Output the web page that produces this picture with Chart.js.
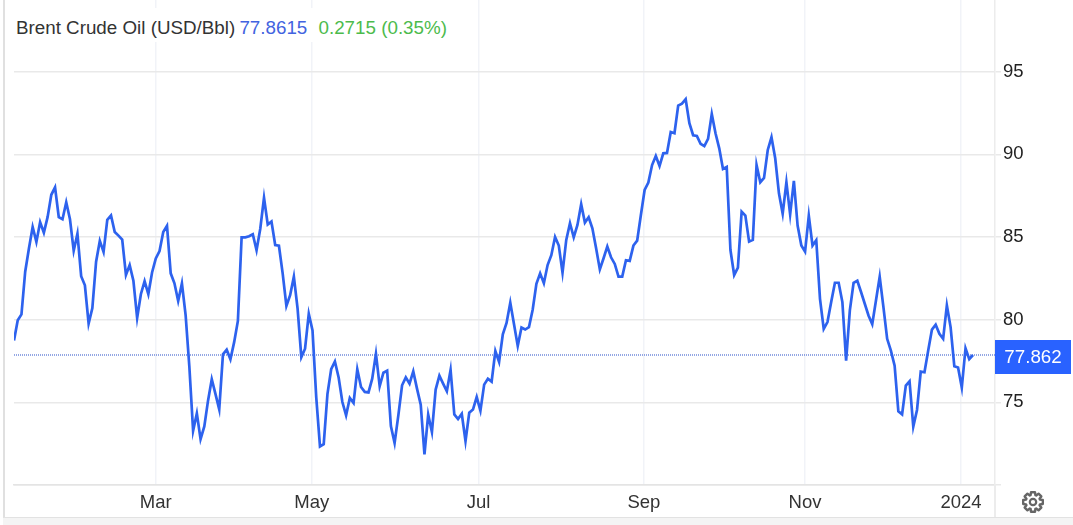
<!DOCTYPE html>
<html>
<head>
<meta charset="utf-8">
<title>Brent Crude Oil</title>
<script src="https://cdn.jsdelivr.net/npm/chart.js@4"></script>
<style>
  html, body { margin: 0; padding: 0; background: #fff; overflow: hidden; }
  body { width: 1073px; height: 525px; position: relative; font-family: "Liberation Sans", Arial, sans-serif; }
  canvas { position: absolute; left: 0; top: 0; }
  #frameLeft { position: absolute; left: 3px; top: 0; width: 2px; height: 518px; background: #e0e0e0; }
  #frameBottom { position: absolute; left: 3px; top: 517px; width: 1070px; height: 8px; background: #f4f4f4; border-top: 1px solid #e2e2e2; box-sizing: border-box; }
  #frameRight { position: absolute; left: 994px; top: 485px; width: 2px; height: 33px; background: #ececec; }
  #header { position: absolute; left: 9px; top: 8px; height: 34px; line-height: 39px; padding: 0 7px; background: #fff; font-size: 18.8px; color: #333; white-space: nowrap; }
  #header .last { color: #4263e0; margin-left: -1px; }
  #header .change { color: #4cbb4c; margin-left: 4px; margin-right: 0; }
  #gear { position: absolute; left: 1022px; top: 491px; }
</style>
</head>
<body>
<canvas id="graphCanvas" width="1073" height="525"></canvas>
<div id="frameLeft"></div>
<div id="frameRight"></div>
<div id="frameBottom"></div>
<div id="header">Brent Crude Oil (USD/Bbl) <span class="last">77.8615</span> <span class="change" style="margin-left:6px">0.2715 (0.35%)</span></div>
<svg id="gear" width="22" height="22" viewBox="0 0 22 22">
  <path id="gearPath" fill="none" stroke="#666" stroke-width="2.4" stroke-linejoin="round"/>
  <circle cx="11" cy="11" r="3.2" fill="none" stroke="#666" stroke-width="2.2"/>
</svg>

<script>
// daily closes, Jan 2023 -> Jan 2024
var closes = [
  78.74, 79.96, 80.32, 82.9, 84.3, 85.6, 84.7, 85.9, 85.26, 86.2,
  87.55, 88.0, 86.2, 86.07, 87.1, 86.07, 84.17, 85.2, 82.63, 82.08,
  79.76, 80.7, 83.5, 84.76, 84.1, 86.03, 86.3, 85.3, 85.08, 84.84,
  82.7, 83.3, 82.35, 80.1, 81.54, 82.33, 81.54, 82.85, 83.7, 84.15,
  85.3, 85.67, 82.8, 82.2, 81.13, 82.19, 80.26, 77.13, 73.28, 74.33,
  72.77, 73.54, 75.1, 76.4, 75.5, 74.57, 77.9, 78.18, 77.6, 78.64,
  79.92, 84.98, 84.98, 85.04, 85.16, 84.2, 85.5, 87.37, 85.75, 85.93,
  84.51, 84.47, 82.8, 80.83, 81.48, 82.6, 80.67, 77.73, 78.24, 80.36,
  79.35, 75.3, 72.33, 72.47, 75.5, 77.0, 77.47, 76.5, 75.02, 74.21,
  75.26, 74.96, 77.0, 75.93, 75.63, 75.6, 76.43, 77.94, 75.97, 76.79,
  76.91, 73.57, 72.54, 74.21, 76.03, 76.51, 76.13, 76.87, 75.83, 74.86,
  71.85, 74.25, 73.2, 75.77, 76.61, 76.13, 75.67, 76.96, 74.27, 73.99,
  74.31, 72.66, 74.37, 74.56, 75.32, 74.5, 76.07, 76.43, 76.25, 78.1,
  77.44, 79.11, 79.8, 81.03, 79.72, 78.41, 79.52, 79.4, 79.54, 80.6,
  82.16, 82.8, 82.2, 83.3, 83.9, 85.0, 84.48, 82.84, 84.82, 85.83,
  84.98, 85.73, 86.98, 85.87, 86.19, 85.52, 84.31, 83.04, 83.71, 84.42,
  83.77, 83.37, 82.6, 82.6, 83.59, 83.55, 84.48, 84.78, 86.33, 87.84,
  88.29, 89.35, 89.9, 89.29, 90.06, 90.08, 91.35, 91.27, 92.94, 93.06,
  93.33, 91.88, 91.15, 91.11, 90.63, 90.5, 90.93, 92.44, 91.27, 90.36,
  89.11, 89.23, 84.21, 82.7, 83.15, 86.53, 86.29, 84.72, 84.82, 89.35,
  88.31, 88.57, 90.26, 91.03, 89.76, 87.64, 86.41, 88.31, 86.37, 88.39,
  85.69, 84.48, 84.11, 86.29, 84.48, 84.8, 81.26, 79.44, 79.85, 81.06,
  82.23, 82.23, 81.06, 77.52, 80.56, 82.23, 82.35, 81.67, 80.96, 80.25,
  79.73, 81.16, 82.6, 80.76, 78.84, 78.13, 77.22, 74.45, 74.27, 76.01,
  76.27, 73.53, 74.54, 76.86, 76.82, 78.13, 79.4, 79.69, 79.14, 78.84,
  80.86, 79.55, 77.18, 77.1, 75.89, 78.27, 77.61, 77.86
];
var lastPrice = 77.862;

// tick positions are in trading-day index
var monthPositions = [38, 79.8, 124.5, 168.8, 212, 253.8];
var monthLabels = ['Mar', 'May', 'Jul', 'Sep', 'Nov', '2024'];
var priceTicks = [75, 80, 85, 90, 95];
var priceFloor = 70;

var lineBlue = '#2d62ee';
var hGrid = '#e9e9e9';
var vGrid = '#f1f3f8';

var closePoints = closes.map(function (v, i) { return { x: i, y: v }; });
var xMax = 262.9;

// gear outline, 8 teeth
var gearPts = [];
for (var t = 0; t < 8; t++) {
  var a = t * Math.PI / 4;
  [[-0.33, 7.3], [-0.2, 10], [0.2, 10], [0.33, 7.3]].forEach(function (p) {
    gearPts.push((11 + p[1] * Math.cos(a + p[0])).toFixed(2) + ' ' + (11 + p[1] * Math.sin(a + p[0])).toFixed(2));
  });
}
document.getElementById('gearPath').setAttribute('d', 'M' + gearPts.join(' L') + ' Z');

// blue last price tag on the axis
var lastTag = {
  id: 'lastTag',
  afterDraw: function (chart) {
    var ctx = chart.ctx;
    var y = Math.round(chart.scales.y.getPixelForValue(lastPrice));
    ctx.save();
    ctx.fillStyle = '#2962ff';
    ctx.fillRect(995, y - 15, 76, 34);
    ctx.fillStyle = '#fff';
    ctx.font = '18.8px "Liberation Sans", Arial, sans-serif';
    ctx.textAlign = 'center';
    ctx.textBaseline = 'middle';
    ctx.fillText(lastPrice.toFixed(3), 1033, y + 3);
    ctx.restore();
  }
};

var graphTarget = document.getElementById('graphCanvas');

var lineGraph = new Chart(graphTarget, {
  type: 'line',
  data: {
    datasets: [{
      label: 'Brent',
      data: closePoints,
      borderColor: lineBlue,
      borderWidth: 2.7,
      pointRadius: 0,
      tension: 0
    }, {
      label: 'last',
      data: [{ x: 0, y: lastPrice }, { x: xMax, y: lastPrice }],
      borderColor: '#2a50c8',
      borderWidth: 1,
      borderDash: [1, 1],
      pointRadius: 0
    }]
  },
  plugins: [lastTag],
  options: {
    responsive: false,
    animation: false,
    events: [],
    layout: { padding: { left: 14, top: 0, right: 0, bottom: 0 } },
    plugins: { legend: { display: false }, tooltip: { enabled: false }, title: { display: false } },
    scales: {
      x: {
        type: 'linear',
        min: 0,
        max: xMax,
        afterBuildTicks: function (scale) {
          scale.ticks = monthPositions.map(function (p) { return { value: p }; });
        },
        afterFit: function (scale) {
          scale.height = 40;
          scale.paddingLeft = 0;
          scale.paddingRight = 0;
        },
        grid: { color: vGrid, lineWidth: 1.5, drawTicks: false },
        border: { color: '#e4e4e4', width: 1.5 },
        ticks: {
          autoSkip: false,
          maxRotation: 0,
          padding: 7,
          color: '#333',
          font: { family: '"Liberation Sans", Arial, sans-serif', size: 18.5 },
          callback: function (value) {
            return monthLabels[monthPositions.indexOf(value)];
          }
        }
      },
      y: {
        position: 'right',
        min: priceFloor,
        max: 99.33,
        afterBuildTicks: function (scale) {
          scale.ticks = [priceFloor].concat(priceTicks).map(function (p) { return { value: p }; });
        },
        afterFit: function (scale) {
          scale.width = 78;
          scale.paddingTop = 0;
          scale.paddingBottom = 0;
        },
        grid: { color: hGrid, lineWidth: 1.5, tickLength: 6, tickColor: hGrid },
        border: { color: '#ececec', width: 1.5 },
        ticks: {
          autoSkip: false,
          padding: 2,
          color: '#222',
          font: { family: '"Liberation Sans", Arial, sans-serif', size: 18.5 },
          callback: function (value) { return value === priceFloor ? '' : String(value); }
        }
      }
    }
  }
});
</script>
</body>
</html>
